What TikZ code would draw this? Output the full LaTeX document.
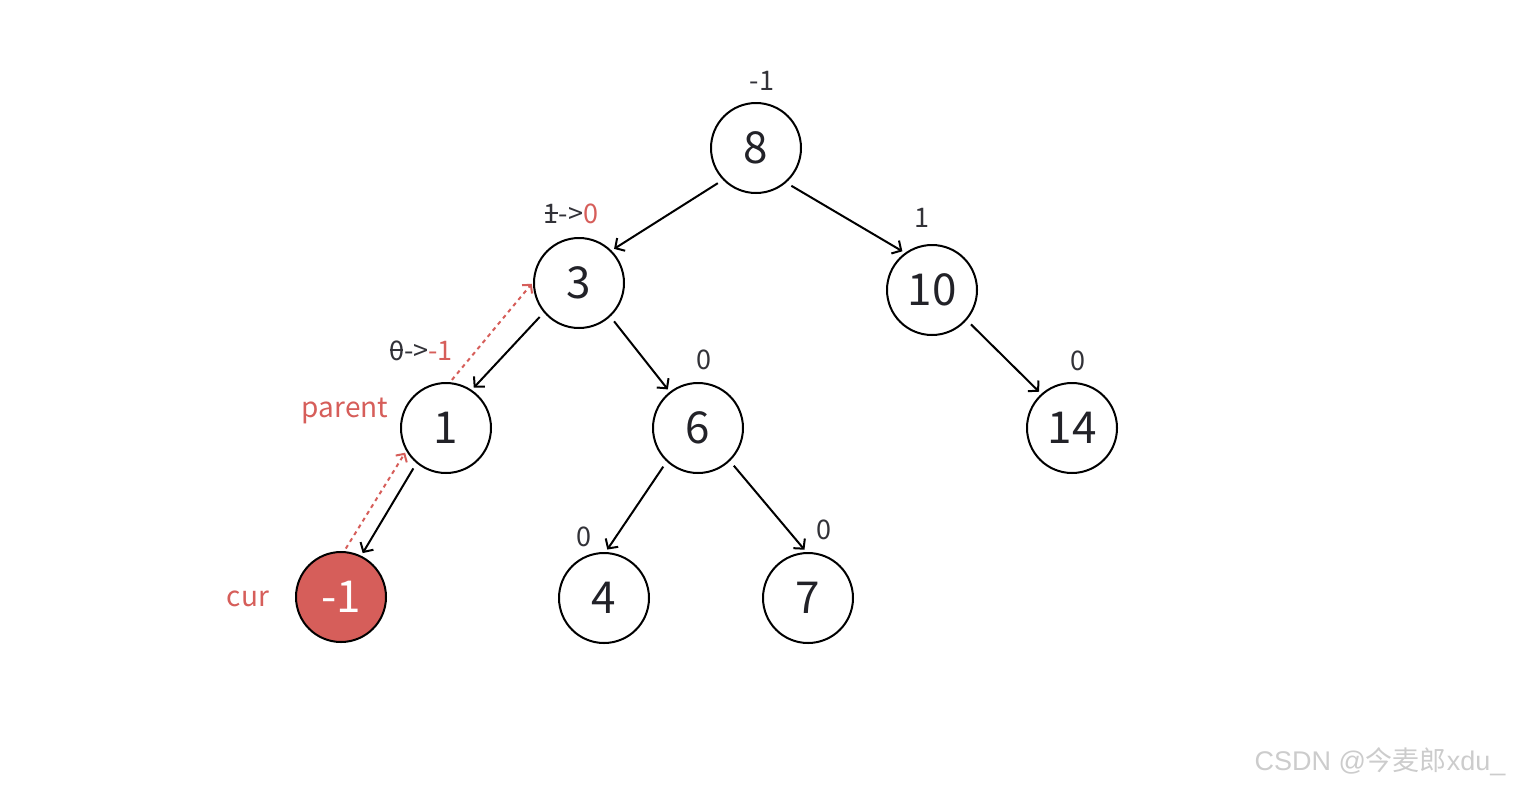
\documentclass[tikz,border=0pt]{standalone}
\usepackage{fontspec}
\setmainfont{Noto Sans CJK SC}
\newfontfamily\wmfont{Liberation Sans}
\newfontfamily\wmcjk{Noto Sans CJK SC}
\usetikzlibrary{arrows.meta}
\definecolor{myred}{RGB}{214,94,90}
\definecolor{ink}{RGB}{34,34,40}
\definecolor{lab}{RGB}{50,50,56}
\newcommand\strk[1]{\ooalign{#1\cr\hidewidth\rule[0.36em]{0.5em}{0.07em}\hidewidth\cr}}
\tikzset{
  tnode/.style={circle, draw=black, line width=2pt, minimum size=90pt, inner sep=0pt,
    text=ink, font=\fontsize{44}{48}\selectfont},
  curnode/.style={tnode, fill=myred, text=white},
  edge/.style={draw=black, line width=2pt, -{Straight Barb[length=7pt,width=15pt,line width=2pt]},
    shorten <=6pt, shorten >=3pt},
  redge/.style={draw=myred, line width=2pt, dash pattern=on 4pt off 4pt,
    -{Straight Barb[length=6pt,width=13pt,line width=2pt]}, shorten <=3pt, shorten >=2pt},
  lbl/.style={text=lab, font=\fontsize{27}{30}\selectfont, inner sep=0pt},
  rlbl/.style={text=myred, font=\fontsize{28}{30}\selectfont, inner sep=0pt},
}
\begin{document}
\begin{tikzpicture}[x=1pt,y=-1pt]
\useasboundingbox (0,0) rectangle (1518,788);
\node[tnode] (n8) at (756,148) {8};
\node[tnode] (n3) at (579,283) {3};
\node[tnode] (n10) at (932,290) {10};
\node[tnode] (n1) at (446,428) {1};
\node[tnode] (n6) at (698,428) {6};
\node[tnode] (n14) at (1072,428) {14};
\node[curnode] (nm1) at (341,597) {-1};
\node[tnode] (n4) at (604,598) {4};
\node[tnode] (n7) at (808,598) {7};

\draw[edge] (n8.224) -- (n3.45);
\draw[edge] (n8.311) -- (n10.126);
\draw[edge] (n3.220) -- (n1.56);
\draw[edge] (n3.313) -- (n6.128);
\draw[edge] (n10.319) -- (n14.132);
\draw[edge] (n1.230) -- (nm1.64);
\draw[edge] (n6.227) -- (n4.88);
\draw[edge] (n6.314) -- (n7.92);

\draw[redge] (nm1.86) -- (n1.210);
\draw[redge] (n1.85) -- (n3.179);

\node[lbl] (b8) at (762,81) {-1};
\node[lbl] (b3) at (571,214) {\strk{1}->\textcolor{myred}{0}};
\node[lbl] (b10) at (922,218) {1};
\node[lbl] (b1) at (421,351) {\strk{0}->\textcolor{myred}{-1}};
\node[lbl] (b6) at (704,360) {0};
\node[lbl] (b14) at (1078,361) {0};
\node[lbl] (b4) at (584,537) {0};
\node[lbl] (b7) at (824,530) {0};
\node[rlbl] (tparent) at (345,411) {parent};
\node[rlbl] (tcur) at (248,599) {cur};
\node[text=black!20, font=\fontsize{27}{30}\selectfont, inner sep=0pt] (wm) at (1380,762)
  {\wmfont CSDN @\wmcjk 今麦郎\wmfont xdu\_};
\end{tikzpicture}
\end{document}
